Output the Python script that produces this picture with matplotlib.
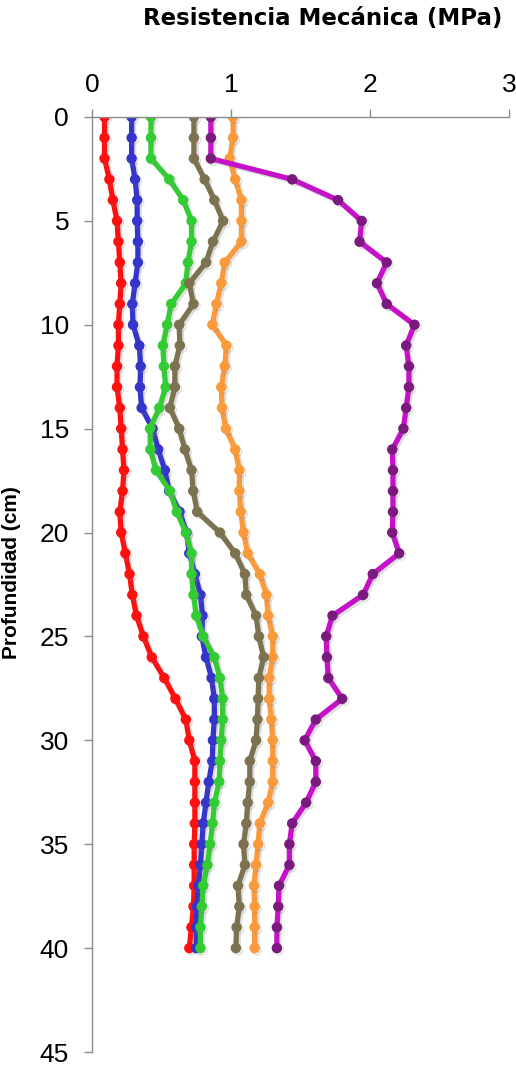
import matplotlib
matplotlib.use("Agg")
import numpy as np
import matplotlib.pyplot as plt
import matplotlib.patheffects as pe

plt.rcParams['font.family'] = ['Liberation Sans', 'DejaVu Sans']

# depth in cm, one reading per centimetre
depth = list(range(0, 41))

red = [0.09, 0.09, 0.09, 0.125, 0.15, 0.18, 0.19, 0.20, 0.21, 0.20,
       0.19, 0.19, 0.18, 0.18, 0.20, 0.21, 0.22, 0.23, 0.22, 0.20,
       0.21, 0.24, 0.27, 0.29, 0.32, 0.37, 0.43, 0.52, 0.60, 0.675,
       0.70, 0.74, 0.74, 0.74, 0.74, 0.735, 0.735, 0.735, 0.73, 0.715, 0.70]

blue = [0.285, 0.285, 0.285, 0.31, 0.325, 0.325, 0.33, 0.33, 0.31, 0.29,
        0.295, 0.34, 0.35, 0.345, 0.357, 0.436, 0.476, 0.524, 0.555, 0.63,
        0.68, 0.70, 0.74, 0.78, 0.795, 0.79, 0.82, 0.86, 0.88, 0.88,
        0.87, 0.865, 0.84, 0.82, 0.80, 0.79, 0.78, 0.765, 0.755, 0.75, 0.75]

green = [0.424, 0.424, 0.424, 0.556, 0.656, 0.716, 0.716, 0.69, 0.675, 0.57,
         0.54, 0.51, 0.517, 0.53, 0.484, 0.417, 0.42, 0.46, 0.56, 0.61,
         0.675, 0.716, 0.716, 0.73, 0.75, 0.80, 0.88, 0.92, 0.94, 0.94,
         0.93, 0.92, 0.915, 0.88, 0.867, 0.85, 0.83, 0.80, 0.79, 0.78, 0.78]

orange = [1.015, 1.015, 0.99, 1.03, 1.075, 1.075, 1.075, 0.955, 0.93, 0.895,
          0.866, 0.967, 0.955, 0.93, 0.935, 0.963, 1.03, 1.06, 1.06, 1.07,
          1.09, 1.12, 1.207, 1.255, 1.267, 1.30, 1.30, 1.275, 1.275, 1.29,
          1.30, 1.30, 1.30, 1.267, 1.207, 1.195, 1.18, 1.165, 1.17, 1.17, 1.17]

olive = [0.733, 0.733, 0.733, 0.81, 0.88, 0.943, 0.87, 0.82, 0.70, 0.73,
         0.627, 0.632, 0.596, 0.596, 0.56, 0.627, 0.668, 0.716, 0.728, 0.757,
         0.92, 1.03, 1.10, 1.11, 1.18, 1.20, 1.235, 1.20, 1.195, 1.19,
         1.18, 1.135, 1.135, 1.12, 1.11, 1.09, 1.10, 1.05, 1.06, 1.04, 1.035]

purple = [0.855, 0.855, 0.855, 1.44, 1.77, 1.94, 1.925, 2.12, 2.05, 2.12,
          2.32, 2.26, 2.28, 2.28, 2.26, 2.24, 2.16, 2.165, 2.165, 2.165,
          2.16, 2.21, 2.02, 1.95, 1.73, 1.685, 1.69, 1.70, 1.80, 1.61,
          1.53, 1.61, 1.61, 1.54, 1.44, 1.42, 1.42, 1.345, 1.34, 1.33, 1.33]

x_ticks = [0, 1, 2, 3]
y_ticks = [0, 5, 10, 15, 20, 25, 30, 35, 40, 45]

series = [
    (red, '#ff1010', '#ff1010'),
    (blue, '#3535cc', '#3535cc'),
    (green, '#33cc33', '#33cc33'),
    (orange, '#fa9a3a', '#fa9a3a'),
    (olive, '#7d7250', '#7d7250'),
    (purple, '#c511c8', '#7a1a7e'),
]

fig = plt.figure(figsize=(5.16, 10.65), dpi=100)
ax = fig.add_axes([92 / 516, 1 - 1052 / 1065, (509 - 92) / 516, (1052 - 117) / 1065])

glow = [pe.SimpleLineShadow(offset=(1.5, -1.5), shadow_color='gray', alpha=0.25),
        pe.Normal()]

for vals, lc, mc in series:
    ax.plot(vals, depth, color=lc, linewidth=3.8, marker='o', markersize=6.5,
            markerfacecolor=mc, markeredgecolor=mc, path_effects=glow)

ax.set_xlim(0, 3)
ax.set_ylim(45, 0)
ax.set_xticks(x_ticks)
ax.set_yticks(y_ticks)

ax.xaxis.tick_top()
for side in ['right', 'bottom']:
    ax.spines[side].set_visible(False)
for side in ['left', 'top']:
    ax.spines[side].set_color('#8c8c8c')
    ax.spines[side].set_linewidth(1.0)

ax.tick_params(axis='x', direction='out', length=5.5, width=1.0, color='#8c8c8c',
               labelsize=19, pad=9)
ax.tick_params(axis='y', direction='out', length=5.5, width=1.0, color='#8c8c8c',
               labelsize=19, pad=11)

fig.text(323 / 516, 1 - 19 / 1065, 'Resistencia Mecánica (MPa)', ha='center', va='center',
         fontsize=16.5, fontweight='bold', family=['DejaVu Sans'])
ax.set_ylabel('Profundidad (cm)', fontsize=15, fontweight='bold')
ax.yaxis.set_label_coords(-0.17, 0.513)

fig.savefig('out.png', dpi=100, facecolor='white')
